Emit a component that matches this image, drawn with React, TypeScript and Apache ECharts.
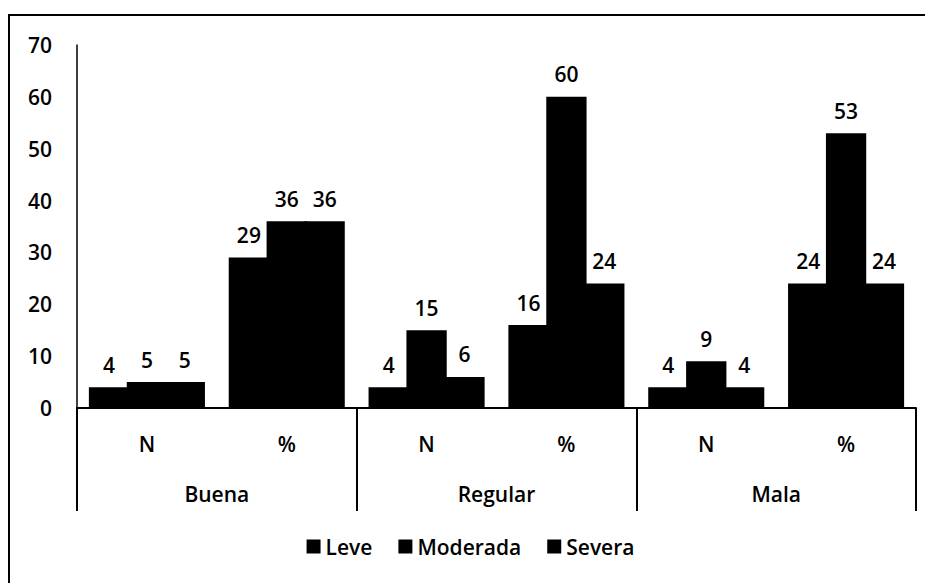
import React, { useEffect, useRef } from "react";
import * as echarts from "echarts";

const subCategories = ["N", "%", "N", "%", "N", "%"];
const groups = ["Buena", "Regular", "Mala"];
const seriesNames = ["Leve", "Moderada", "Severa"];
const leve = [4, 29, 4, 16, 4, 24];
const moderada = [5, 36, 15, 60, 9, 53];
const severa = [5, 36, 6, 24, 4, 24];
const yTicks = { min: 0, max: 70, interval: 10 };

const FONT = "'Open Sans', 'DejaVu Sans', sans-serif";
const FS = 21;
const FW = 600;

export default function App() {
  const ref = useRef<HTMLDivElement>(null);
  useEffect(() => {
    if (!ref.current) return;
    const chart = echarts.init(ref.current, null, { renderer: "svg" });
    const values = [leve, moderada, severa];
    chart.setOption({
      animation: false,
      backgroundColor: "#fff",
      textStyle: { fontFamily: FONT },
      graphic: [
        {
          type: "rect",
          shape: { x: 1, y: 7, width: 2000, height: 2000 },
          style: { fill: "none", stroke: "#000", lineWidth: 2 },
          silent: true,
        },
      ],
      grid: { left: 69, right: 17, top: 37, bottom: 175, containLabel: false },
      legend: {
        data: seriesNames,
        bottom: 21,
        left: "center",
        itemWidth: 14,
        itemHeight: 14,
        itemGap: 26,
        icon: "rect",
        textStyle: { fontFamily: FONT, fontSize: FS, fontWeight: FW, color: "#000" },
      },
      xAxis: [
        {
          type: "category",
          data: subCategories,
          position: "bottom",
          axisLine: { show: true, lineStyle: { color: "#000", width: 2 } },
          axisTick: { show: false },
          axisLabel: { margin: 25, fontSize: FS, fontWeight: FW, color: "#000", fontFamily: FONT },
        },
        {
          type: "category",
          data: groups,
          position: "bottom",
          axisLine: { show: false },
          axisTick: { show: true, length: 103, interval: 0, lineStyle: { color: "#000", width: 2 } },
          axisLabel: { margin: 75, fontSize: FS, fontWeight: FW, color: "#000", fontFamily: FONT },
        },
      ],
      yAxis: {
        type: "value",
        min: yTicks.min,
        max: yTicks.max,
        interval: yTicks.interval,
        splitLine: { show: false },
        axisLine: { show: true, lineStyle: { color: "#000", width: 1.5 } },
        axisTick: { show: false },
        axisLabel: { margin: 25, fontSize: FS, fontWeight: FW, color: "#000", fontFamily: FONT },
      },
      series: seriesNames.map((name, i) => ({
        name,
        type: "bar",
        xAxisIndex: 0,
        data: values[i],
        barGap: "-6%",
        barCategoryGap: "17%",
        itemStyle: { color: "#000" },
        label: {
          show: true,
          position: "top",
          distance: 12,
          fontSize: FS,
          fontWeight: FW,
          color: "#000",
          fontFamily: FONT,
        },
      })),
    });
    return () => chart.dispose();
  }, []);
  return <div ref={ref} style={{ width: 925, height: 575 }} />;
}
